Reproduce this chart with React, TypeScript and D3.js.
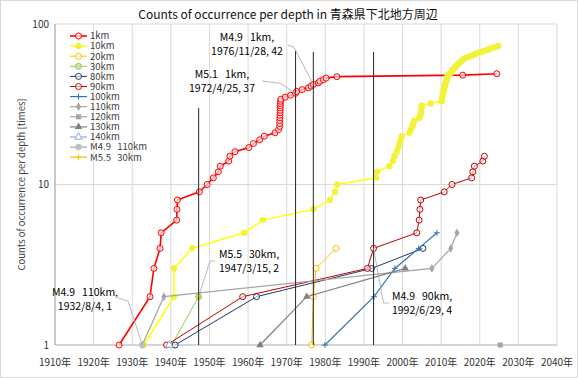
import React from 'react';
import * as d3 from 'd3';

type Pt = [number, number];

const title = 'Counts of occurrence per depth in 青森県下北地方周辺';
const yAxisTitle = 'Counts of occurrence per depth [times]';
const xTickYears = [1910, 1920, 1930, 1940, 1950, 1960, 1970, 1980, 1990, 2000, 2010, 2020, 2030, 2040];
const yTickValues = [1, 10, 100];

const km1: Pt[] = [
  [1926.6, 1], [1934.6, 2], [1935.6, 3], [1937.2, 4], [1937.5, 5], [1941.5, 6], [1941.6, 7], [1941.7, 8],
  [1947.4, 9], [1949.4, 10], [1951.0, 11], [1952.3, 12], [1952.8, 13], [1955.0, 14], [1955.3, 15], [1956.6, 16],
  [1960.2, 17], [1961.4, 18], [1963.0, 19], [1964.2, 20], [1967.0, 21], [1967.9, 22],
  [1968.2, 23], [1968.2, 24], [1968.2, 25], [1968.25, 26], [1968.25, 27], [1968.3, 28], [1968.3, 29], [1968.3, 30],
  [1968.35, 31], [1968.35, 32], [1968.4, 33], [1968.5, 34],
  [1969.6, 35], [1971.0, 36], [1972.3, 37], [1972.6, 38], [1974.0, 39], [1975.6, 40], [1976.3, 41], [1976.9, 42],
  [1978.2, 43], [1978.6, 44], [1979.5, 45], [1980.2, 46], [1983.0, 47], [2015.6, 48], [2024.4, 49],
];

const km10: Pt[] = [
  [1933.0, 1], [1940.8, 2], [1940.8, 3], [1945.5, 4], [1959.0, 5], [1963.8, 6], [1976.9, 7], [1981.2, 8],
  [1982.5, 9], [1983.1, 10], [1993.2, 11], [1993.4, 12], [1996.6, 13], [1997.5, 14], [1997.9, 15], [1998.5, 16],
  [1998.9, 17], [1999.2, 18], [1999.5, 19], [1999.8, 20], [2001.8, 21], [2002.1, 22], [2002.6, 23], [2002.8, 24],
  [2003.0, 25], [2004.3, 26], [2004.6, 27], [2004.8, 28], [2004.85, 29], [2004.9, 30], [2004.95, 31], [2007.3, 32],
  [2010.1, 33], [2010.2, 34], [2010.3, 35], [2010.4, 36], [2010.5, 37], [2010.6, 38], [2010.7, 39], [2010.8, 40],
  [2010.9, 41], [2011.0, 42], [2011.2, 43], [2011.3, 44], [2011.4, 45], [2011.5, 46], [2011.6, 47], [2011.9, 48],
  [2012.3, 49], [2012.5, 50], [2012.8, 51], [2013.1, 52], [2013.4, 53], [2013.7, 54], [2014.0, 55], [2014.3, 56],
  [2014.6, 57], [2015.0, 58], [2015.3, 59], [2015.7, 60], [2016.0, 61], [2016.7, 62], [2017.5, 63], [2018.3, 64],
  [2018.9, 65], [2019.4, 66], [2020.3, 67], [2021.2, 68], [2022.0, 69], [2022.7, 70], [2023.4, 71], [2024.0, 72],
  [2024.8, 73],
];

const km20: Pt[] = [[1976.5, 1], [1976.9, 2], [1977.6, 3], [1982.8, 4]];
const km30: Pt[] = [[1940.2, 1], [1947.2, 2]];
const km80: Pt[] = [[1941.1, 1], [1962.2, 2], [1992.0, 3], [2005.3, 4]];
const km90: Pt[] = [
  [1938.9, 1], [1958.6, 2], [1990.9, 3], [1992.5, 4], [2003.7, 5], [2004.3, 6], [2004.5, 7], [2004.7, 8],
  [2010.8, 9], [2012.8, 10], [2017.9, 11], [2018.2, 12], [2018.6, 13], [2020.8, 14], [2021.2, 15],
];
const km100: Pt[] = [[1979.9, 1], [1992.6, 2], [1998.0, 3], [2004.2, 4], [2008.9, 5]];
const km110: Pt[] = [[1932.6, 1], [1938.2, 2], [2007.6, 3], [2012.5, 4], [2014.1, 5]];
const km120: Pt[] = [[2025.3, 1]];
const km130: Pt[] = [[1963.1, 1], [1975.2, 2], [2000.7, 3]];
const km140: Pt[] = [[1939.6, 1]];
const m49km110: Pt[] = [[1932.6, 1]];
const m55km30: Pt[] = [[1947.2, 2]];

// vertical marker lines for notable quakes: [year, top count]
const quakeLines: Pt[] = [[1947.2, 30], [1972.3, 68], [1976.9, 67], [1992.5, 67]];

type Marker = 'circle' | 'dot' | 'plus' | 'diamond' | 'square' | 'triangle' | 'triangleOpen';
interface Series { name: string; data: Pt[]; color: string; marker: Marker; lw: number; fill?: string; }

const series: Series[] = [
  { name: '1km', data: km1, color: '#FF0000', marker: 'circle', lw: 1.6, fill: 'rgba(255,235,235,0.7)' },
  { name: '10km', data: km10, color: '#FFFF00', marker: 'dot', lw: 1.5, fill: '#F2F23A' },
  { name: '20km', data: km20, color: '#FFC000', marker: 'circle', lw: 1, fill: 'rgba(255,255,255,0.6)' },
  { name: '30km', data: km30, color: '#92D050', marker: 'circle', lw: 1, fill: '#C9E3A8' },
  { name: '80km', data: km80, color: '#203864', marker: 'circle', lw: 1, fill: 'rgba(255,255,255,0.6)' },
  { name: '90km', data: km90, color: '#C00000', marker: 'circle', lw: 1, fill: 'rgba(255,255,255,0.6)' },
  { name: '100km', data: km100, color: '#2E75B6', marker: 'plus', lw: 1.2 },
  { name: '110km', data: km110, color: '#A5A5A5', marker: 'diamond', lw: 1.2 },
  { name: '120km', data: km120, color: '#A5A5A5', marker: 'square', lw: 1.2 },
  { name: '130km', data: km130, color: '#808080', marker: 'triangle', lw: 1.2 },
  { name: '140km', data: km140, color: '#8FAADC', marker: 'triangleOpen', lw: 1.2 },
  { name: 'M4.9\u00a0\u00a0 110km', data: m49km110, color: '#A5A5A5', marker: 'dot', lw: 1.2, fill: '#BFBFBF' },
  { name: 'M5.5\u00a0\u00a0 30km', data: m55km30, color: '#FFC000', marker: 'plus', lw: 1.2 },
];

const annotations = [
  { pt: m49km110[0], lines: ['M4.9\u00a0\u00a0 110km,', '1932/8/4, 1'], cx: 85, cy: 299, leader: [[118, 298], [128, 301]] },
  { pt: m55km30[0], lines: ['M5.5\u00a0\u00a0 30km,', '1947/3/15, 2'], cx: 249, cy: 261.5, leader: [[215, 261], [210, 261]] },
  { pt: km1[36], lines: ['M5.1\u00a0\u00a0 1km,', '1972/4/25, 37'], cx: 222, cy: 81.5, leader: [[262, 81], [280, 83.3]] },
  { pt: km1[41], lines: ['M4.9\u00a0\u00a0 1km,', '1976/11/28, 42'], cx: 247, cy: 44.5, leader: [[288, 45], [294, 47.3]] },
  { pt: km90[3], lines: ['M4.9\u00a0\u00a0 90km,', '1992/6/29, 4'], cx: 422, cy: 303, leader: [[389, 303], [383.5, 303]] },
];

const FONT = "'Noto Sans CJK JP', 'Noto Sans', sans-serif";

function MarkerShape({ m, cx, cy, color, fill }: { m: Marker; cx: number; cy: number; color: string; fill?: string }) {
  switch (m) {
    case 'circle':
      return <circle cx={cx} cy={cy} r={3} fill={fill ?? 'none'} stroke={color} strokeWidth={1} />;
    case 'dot':
      return <circle cx={cx} cy={cy} r={3} fill={fill ?? color} stroke={fill ?? color} strokeWidth={0.5} />;
    case 'plus':
      return <path d={`M${cx - 3},${cy}H${cx + 3}M${cx},${cy - 3}V${cy + 3}`} stroke={color} strokeWidth={1} fill="none" />;
    case 'diamond':
      return <path transform={`translate(${cx},${cy})`} d={d3.symbol(d3.symbolDiamond, 22)()!} fill={color} />;
    case 'square':
      return <path transform={`translate(${cx},${cy})`} d={d3.symbol(d3.symbolSquare, 26)()!} fill={color} />;
    case 'triangle':
      return <path transform={`translate(${cx},${cy})`} d={d3.symbol(d3.symbolTriangle, 24)()!} fill={color} />;
    case 'triangleOpen':
      return <path transform={`translate(${cx},${cy})`} d={d3.symbol(d3.symbolTriangle, 24)()!} fill="white" stroke={color} strokeWidth={1} />;
  }
  return null;
}

export default function App() {
  const W = 578, H = 378;
  const x = d3.scaleLinear().domain([1910, 2040]).range([55, 557]);
  const y = d3.scaleLog().domain([1, 100]).range([345, 24]);
  const line = d3.line<Pt>().x(d => x(d[0])).y(d => y(d[1]));
  const [x0, x1] = x.range();
  const [yb, yt] = y.range();

  return (
    <svg width={W} height={H} style={{ position: 'absolute', left: 0, top: 0, background: '#fff' }} fontFamily={FONT}>
      <rect x={0.5} y={0.5} width={W - 1} height={H - 1} fill="#fff" stroke="#D9D9D9" />
      <text x={288} y={19} textAnchor="middle" fontSize={12} fill="#111">{title}</text>

      {/* gridlines */}
      {xTickYears.map(t => (
        <line key={'gx' + t} x1={x(t)} x2={x(t)} y1={yt} y2={yb} stroke="#D9D9D9" strokeWidth={1} />
      ))}
      {yTickValues.map(v => (
        <line key={'gy' + v} x1={x0} x2={x1} y1={y(v)} y2={y(v)} stroke="#D9D9D9" strokeWidth={1} />
      ))}
      <line x1={x0} x2={x0} y1={yt} y2={yb} stroke="#A6A6A6" />
      <line x1={x0} x2={x1} y1={yb} y2={yb} stroke="#BFBFBF" />

      {/* tick labels */}
      {xTickYears.map(t => (
        <text key={'tx' + t} x={x(t)} y={366} textAnchor="middle" fontSize={10} fill="#333">{`${t}年`}</text>
      ))}
      {yTickValues.map(v => (
        <text key={'ty' + v} x={49} y={y(v) + 3.5} textAnchor="end" fontSize={10} fill="#333">{v}</text>
      ))}
      <text transform={`translate(25,${(yt + yb) / 2}) rotate(-90)`} textAnchor="middle" fontSize={9.5} fill="#444">{yAxisTitle}</text>

      {/* series */}
      {series.map(s => (
        <g key={s.name}>
          {s.data.length > 1 && <path d={line(s.data)!} fill="none" stroke={s.color} strokeWidth={s.lw} />}
          {s.data.map((d, i) => (
            <MarkerShape key={i} m={s.marker} cx={x(d[0])} cy={y(d[1])} color={s.color} fill={s.fill} />
          ))}
        </g>
      ))}

      {/* vertical quake lines */}
      {quakeLines.map(([yr, top], i) => (
        <line key={'q' + i} x1={x(yr)} x2={x(yr)} y1={y(top)} y2={yb} stroke="#262626" strokeWidth={1} />
      ))}

      {/* annotations */}
      {annotations.map((a, i) => {
        const px = x(a.pt[0]), py = y(a.pt[1]);
        const pts = [...a.leader, [px, py]] as [number, number][];
        return (
          <g key={'a' + i}>
            <polyline points={pts.map(p => p.join(',')).join(' ')} fill="none" stroke="#A6A6A6" strokeWidth={0.8} />
            <text x={a.cx} y={a.cy - 3.5} textAnchor="middle" fontSize={10.5} fill="#000" style={{ whiteSpace: 'pre' }}>{a.lines[0]}</text>
            <text x={a.cx} y={a.cy + 10.5} textAnchor="middle" fontSize={10.5} fill="#000">{a.lines[1]}</text>
          </g>
        );
      })}

      {/* legend */}
      {series.map((s, i) => {
        const ly = 36 + i * 10.1;
        return (
          <g key={'l' + s.name}>
            <line x1={70} x2={87} y1={ly} y2={ly} stroke={s.color} strokeWidth={s.lw} />
            <MarkerShape m={s.marker} cx={78.5} cy={ly} color={s.color} fill={s.fill} />
            <text x={90} y={ly + 3.3} fontSize={9.5} fill="#404040" style={{ whiteSpace: 'pre' }}>{s.name}</text>
          </g>
        );
      })}
    </svg>
  );
}
